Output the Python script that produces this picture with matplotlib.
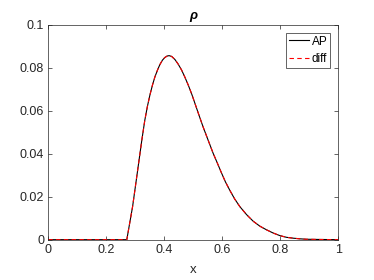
import matplotlib
matplotlib.use("Agg")
import matplotlib.pyplot as plt

# values
x = [0.0, 0.1, 0.2, 0.271, 0.291, 0.307, 0.323, 0.333, 0.342, 0.351, 0.360, 0.368,
     0.377, 0.385, 0.394, 0.402, 0.410, 0.417, 0.426, 0.437, 0.448, 0.460, 0.471,
     0.483, 0.495, 0.506, 0.520, 0.534, 0.552, 0.569, 0.583, 0.597, 0.611, 0.626,
     0.643, 0.661, 0.684, 0.707, 0.730, 0.753, 0.776, 0.799, 0.822, 0.845, 0.868,
     0.891, 0.937, 1.0]
rho_ap = [0.0, 0.0, 0.0, 0.0, 0.0154, 0.0309, 0.0465, 0.0555, 0.0620, 0.0675, 0.0722, 0.0758,
          0.0790, 0.0815, 0.0836, 0.0848, 0.0855, 0.0857, 0.0853, 0.0839, 0.0818, 0.0790, 0.0758,
          0.0720, 0.0678, 0.0635, 0.0580, 0.0526, 0.0462, 0.0402, 0.0358, 0.0313, 0.0270, 0.0231,
          0.0190, 0.0154, 0.0117, 0.0086, 0.0063, 0.0046, 0.0031, 0.0019, 0.0011, 0.0007, 0.0004,
          0.0002, 0.0001, 0.0]
rho_diff = [0.0, 0.0, 0.0, 0.0, 0.0154, 0.0309, 0.0465, 0.0555, 0.0620, 0.0675, 0.0722, 0.0758,
            0.0790, 0.0815, 0.0836, 0.0848, 0.0855, 0.0857, 0.0853, 0.0839, 0.0818, 0.0790, 0.0758,
            0.0720, 0.0678, 0.0635, 0.0580, 0.0526, 0.0462, 0.0402, 0.0358, 0.0313, 0.0270, 0.0231,
            0.0190, 0.0154, 0.0117, 0.0086, 0.0063, 0.0046, 0.0031, 0.0019, 0.0011, 0.0007, 0.0004,
            0.0002, 0.0001, 0.0]
xticks = [0, 0.2, 0.4, 0.6, 0.8, 1]
xticklabels = ["0", "0.2", "0.4", "0.6", "0.8", "1"]
yticks = [0, 0.02, 0.04, 0.06, 0.08, 0.1]
yticklabels = ["0", "0.02", "0.04", "0.06", "0.08", "0.1"]

plt.rcParams['font.family'] = ['Liberation Sans', 'DejaVu Sans']
gray = (0.15, 0.15, 0.15)

fig = plt.figure(figsize=(3.74, 2.80), dpi=100)
ax = fig.add_axes([0.129, 0.144, 0.775, 0.767])
ax.plot(x, rho_ap, color='black', lw=0.8, label='AP')
ax.plot(x, rho_diff, color='red', lw=0.8, ls=(0, (4, 3)), label='diff')

ax.set_xlim(0, 1)
ax.set_ylim(0, 0.1)
ax.set_xticks(xticks)
ax.set_xticklabels(xticklabels)
ax.set_yticks(yticks)
ax.set_yticklabels(yticklabels)
ax.tick_params(direction='in', length=3, width=0.5, colors=gray, labelsize=9,
               top=True, right=True, pad=3)
for s in ax.spines.values():
    s.set_color(gray)
    s.set_linewidth(0.5)

ax.set_title('ρ', fontsize=9.5, fontweight='bold', style='italic', pad=4, color='black')
ax.set_xlabel('x', fontsize=9.5, color=gray, labelpad=6)

leg = ax.legend(loc='upper right', fontsize=8.5, handlelength=1.7, handletextpad=0.25,
                borderpad=0.25, labelspacing=0.5, fancybox=False, framealpha=1,
                borderaxespad=0.65)
leg.get_frame().set_edgecolor(gray)
leg.get_frame().set_linewidth(0.5)

fig.savefig('out.png', dpi=100)
